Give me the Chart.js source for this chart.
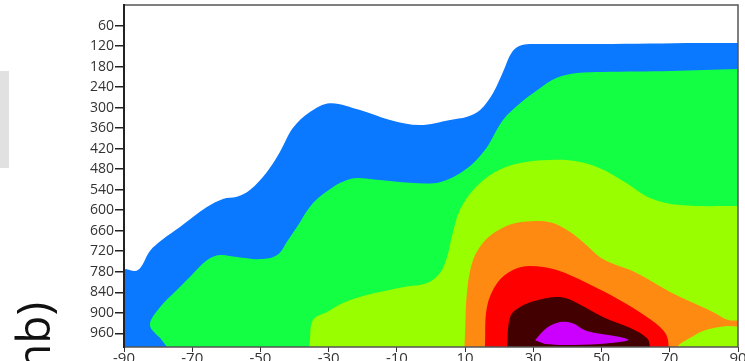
<!DOCTYPE html>
<html>
<head>
<meta charset="utf-8">
<script src="https://cdn.jsdelivr.net/npm/chart.js@4.4.1/dist/chart.umd.min.js"></script>
<style>
  html, body { margin: 0; padding: 0; background: #fff; overflow: hidden; }
  #wrap { position: relative; width: 745px; height: 361px; }
</style>
</head>
<body>
<div id="wrap"><canvas id="chart" width="745" height="361"></canvas></div>
<script>
// axis ticks: pressure (mb) on the left, latitude along the bottom
const yTicks = [60, 120, 180, 240, 300, 360, 420, 480, 540, 600, 660, 720, 780, 840, 900, 960];
const xTicks = [-90, -70, -50, -30, -10, 10, 30, 50, 70, 90];

// contour outlines as [latitude, pressure] pairs, outermost level first
const blueEdge = [
	[-95, 1040], [-95, 772], [-90, 772], [-85.9, 775], [-82.4, 719], [-78.9, 687], [-73.6, 649],
	[-65.7, 591], [-61, 567], [-56.9, 561], [-53.1, 541], [-48.1, 488], [-44.3, 430], [-40.5, 360],
	[-35.5, 313], [-29.6, 287], [-20.8, 307], [-12, 336], [-3.2, 351], [5.6, 336], [10.6, 327],
	[14.4, 307], [18.2, 257], [21.1, 196], [23.8, 137], [26.7, 117], [32, 114], [49.5, 114],
	[78.9, 111], [90, 111], [95, 111], [95, 1040],
];
const greenEdge = [
	[-74.5, 1038], [-78.9, 980], [-82.4, 936], [-79.4, 883], [-74.5, 833], [-70.7, 795], [-65.7, 746],
	[-61.9, 731], [-56.9, 737], [-50.1, 743], [-45.1, 731], [-41.9, 687], [-39.3, 649], [-34.6, 579],
	[-28.7, 532], [-24.6, 512], [-21.7, 506], [-15, 512], [-6.2, 520], [2.6, 518], [10, 482],
	[15.8, 424], [21.1, 336], [26.1, 287], [31.1, 249], [36.9, 213], [42.8, 199], [50.4, 196],
	[70.1, 193], [90, 187], [95, 187], [95, 1040],
];
const limeEdge = [
	[-36.1, 1038], [-35.5, 980], [-34.6, 921], [-30.5, 898], [-25.8, 871], [-18.8, 848], [-8.2, 825],
	[-1.2, 813], [2.6, 784], [4.7, 737], [6.2, 673], [8.5, 599], [12.9, 535], [18.8, 488],
	[26.1, 462], [34.9, 453], [42.2, 456], [49.5, 477], [56.9, 518], [64.2, 564], [73, 585],
	[90, 588], [95, 588], [95, 1040],
];
const orangeEdge = [
	[9.7, 1038], [10, 950], [10.6, 833], [12.3, 746], [15.2, 696], [18.8, 664], [23.7, 640],
	[29.6, 632], [35.5, 637], [40.8, 664], [45.2, 699], [50.4, 743], [60.4, 784], [70.1, 839],
	[78.9, 880], [83.3, 901], [87.1, 921], [92, 924], [92, 939], [86.2, 939], [79.7, 953],
	[75.9, 974], [72.1, 1000], [70.7, 1038],
];
const redEdge = [
	[15.5, 1038], [15.8, 1000], [16.4, 883], [19.4, 813], [24, 775], [29, 763], [36.9, 775],
	[45.7, 813], [55.4, 863], [63.3, 912], [68, 950], [69.5, 980], [69.5, 1038],
];
const darkEdge = [
	[22, 1038], [22.3, 1000], [23.2, 912], [26.1, 883], [31.1, 863], [37.8, 854], [42.8, 871],
	[50.4, 912], [58.3, 944], [63.3, 974], [64.2, 1000], [64.2, 1038],
];
const magentaEdge = [
	[30.5, 980], [34, 944], [37.8, 927], [41.3, 930], [45.7, 953], [55.4, 971], [57.8, 980],
	[49.5, 991], [39.3, 994], [33.4, 991],
];

const levels = [blueEdge, greenEdge, limeEdge, orangeEdge, redEdge, darkEdge, magentaEdge];
const levelColors = ["#0a78ff", "#12ff44", "#99ff00", "#ff8a12", "#ff0000", "#420000", "#cc00ff"];

// frame around the plot, grey swatch and the rotated axis title
const framePlugin = {
	id: "frame",
	beforeDraw(chart) {
		const ctx = chart.ctx;
		ctx.save();
		ctx.fillStyle = "#e1e1e1";
		ctx.fillRect(0, 71, 9, 97);
		ctx.restore();
	},
	afterDatasetsDraw(chart) {
		const { ctx, chartArea: a } = chart;
		ctx.save();
		ctx.strokeStyle = "#555";
		ctx.lineWidth = 1.5;
		ctx.beginPath();
		ctx.moveTo(a.left, a.top);
		ctx.lineTo(a.right, a.top);
		ctx.lineTo(a.right, a.bottom);
		ctx.lineTo(a.left, a.bottom);
		ctx.stroke();
		ctx.strokeStyle = "#222";
		ctx.lineWidth = 2;
		ctx.beginPath();
		ctx.moveTo(a.left, a.top - 1);
		ctx.lineTo(a.left, a.bottom + 1);
		ctx.stroke();
		ctx.restore();
	},
	afterDraw(chart) {
		const ctx = chart.ctx;
		ctx.save();
		ctx.translate(50, 302);
		ctx.rotate(-Math.PI / 2);
		ctx.font = "46px 'Open Sans'";
		ctx.fillStyle = "#111";
		ctx.textAlign = "right";
		ctx.textBaseline = "alphabetic";
		ctx.fillText("Pressure (mb)", 0, 0);
		ctx.restore();
	},
};

new Chart(document.getElementById("chart"), {
	type: "line",
	data: {
		datasets: levels.map((pts, i) => ({
			data: pts.map(([x, y]) => ({ x, y })),
			backgroundColor: levelColors[i],
			borderColor: "rgba(0,0,0,0)",
			borderWidth: 0,
			pointRadius: 0,
			tension: 0.35,
			fill: "shape",
			order: levels.length - i,
		})),
	},
	options: {
		responsive: false,
		animation: false,
		devicePixelRatio: 1,
		layout: { padding: { top: 5, right: 7, bottom: 0, left: 0 } },
		plugins: { legend: { display: false }, tooltip: { enabled: false } },
		scales: {
			x: {
				type: "linear",
				min: -90,
				max: 90,
				afterBuildTicks: (s) => { s.ticks = xTicks.map((v) => ({ value: v })); },
				afterFit: (s) => { s.height = 14; s.paddingLeft = 0; s.paddingRight = 0; },
				border: { display: false },
				grid: { drawOnChartArea: false, drawTicks: true, tickLength: 5, color: "#333" },
				ticks: { color: "#333", font: { family: "'Open Sans'", size: 15 }, padding: -2, maxRotation: 0, autoSkip: false },
			},
			y: {
				type: "linear",
				reverse: true,
				min: 0,
				max: 1000,
				afterBuildTicks: (s) => { s.ticks = yTicks.map((v) => ({ value: v })); },
				afterFit: (s) => { s.width = 124; s.paddingTop = 0; s.paddingBottom = 0; },
				border: { display: false },
				grid: { drawOnChartArea: false, drawTicks: true, tickLength: 9, color: "#222", lineWidth: 1.5 },
				ticks: { color: "#333", font: { family: "'Open Sans'", size: 14 }, padding: 1, autoSkip: false },
			},
		},
	},
	plugins: [framePlugin],
});
</script>
</body>
</html>
